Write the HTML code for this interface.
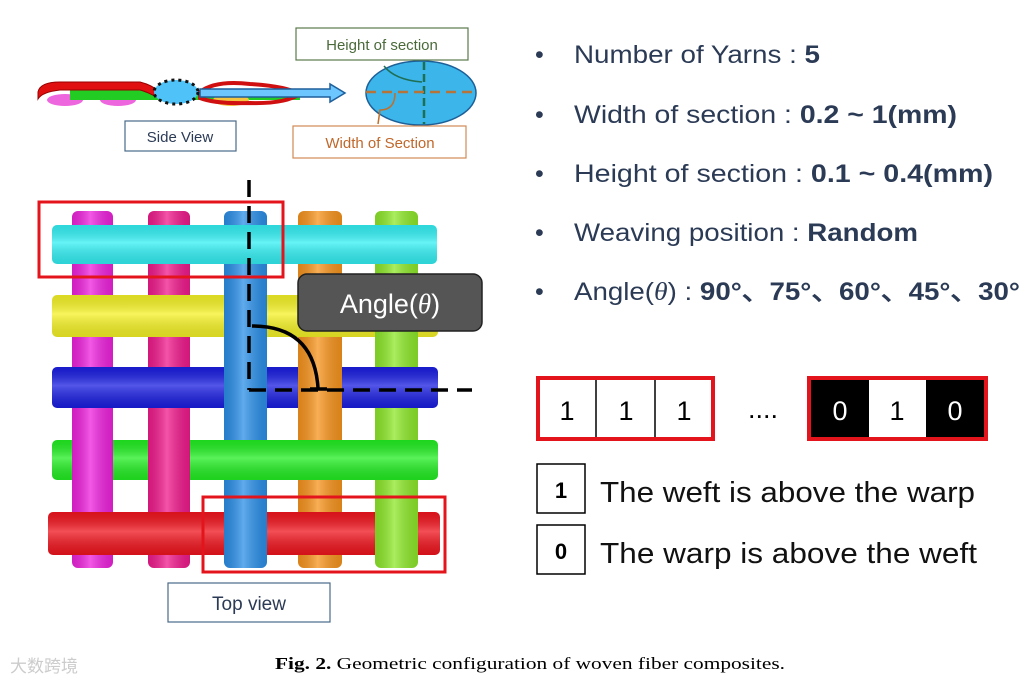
<!DOCTYPE html>
<html><head><meta charset="utf-8"><style>
html,body{margin:0;padding:0;background:#fff}
svg{display:block}
</style></head><body>
<svg width="1036" height="686" viewBox="0 0 1036 686" xmlns="http://www.w3.org/2000/svg" font-family="Liberation Sans, DejaVu Sans, sans-serif">
<defs>
<linearGradient id="v" x1="0" x2="1" y1="0" y2="0"><stop offset="0" stop-color="#000" stop-opacity=".12"/><stop offset=".45" stop-color="#fff" stop-opacity=".25"/><stop offset="1" stop-color="#000" stop-opacity=".12"/></linearGradient>
<linearGradient id="h" x1="0" x2="0" y1="0" y2="1"><stop offset="0" stop-color="#000" stop-opacity=".1"/><stop offset=".45" stop-color="#fff" stop-opacity=".25"/><stop offset="1" stop-color="#000" stop-opacity=".12"/></linearGradient>
</defs>
<!-- side view -->
<g>
<ellipse cx="65" cy="100" rx="18" ry="6" fill="#ee66dd"/>
<ellipse cx="118" cy="100" rx="18" ry="6" fill="#ee66dd"/>
<rect x="70" y="90" width="230" height="10" fill="#22cc22"/>
<ellipse cx="231" cy="100" rx="18" ry="6" fill="#f5c542"/>
<path d="M38 92 Q40 82 60 82 L140 82 Q152 85 160 92 L158 98 Q148 92 140 90 L60 90 Q42 92 38 99 Z" fill="#e01010" stroke="#900" stroke-width="1"/>
<path d="M200 92 Q215 80 250 84 Q285 86 300 94 Q285 104 250 103 Q215 104 200 98 Z" fill="none" stroke="#d01010" stroke-width="4"/>
<ellipse cx="176" cy="92" rx="22" ry="12" fill="#4fc3f7" stroke="#111" stroke-width="3" stroke-dasharray="3 4"/>
<path d="M200 89 L330 89 L330 84 L345 93 L330 102 L330 97 L200 97 Z" fill="#6ec6ff" stroke="#1f5f9a" stroke-width="1.5"/>
<rect x="125" y="121" width="111" height="30" fill="#fff" stroke="#4a6a8a" stroke-width="1.2"/>
<text x="180" y="142" font-size="15" text-anchor="middle" fill="#2b3a55">Side View</text>
<ellipse cx="421" cy="93" rx="55" ry="32" fill="#3bb5ea" stroke="#1d5f96" stroke-width="1.5"/>
<line x1="424" y1="62" x2="424" y2="124" stroke="#1f6f55" stroke-width="2.5" stroke-dasharray="8 4"/>
<line x1="366" y1="92" x2="476" y2="92" stroke="#b5753a" stroke-width="2.5" stroke-dasharray="10 6"/>
<path d="M422 82 Q395 80 384 66" fill="none" stroke="#1f6f55" stroke-width="1.5"/>
<path d="M395 93 Q395 110 380 110 L378 124" fill="none" stroke="#c0702a" stroke-width="1.5"/>
<rect x="296" y="28" width="172" height="32" fill="#fff" stroke="#5a7a4a" stroke-width="1.2"/>
<text x="382" y="50" font-size="15" text-anchor="middle" fill="#4a6a3a">Height of section</text>
<rect x="293" y="126" width="173" height="32" fill="#fff" stroke="#d08a55" stroke-width="1.2"/>
<text x="380" y="148" font-size="15" text-anchor="middle" fill="#c0672a">Width of Section</text>
</g>
<!-- weave -->
<g>
<rect x="72" y="211" width="41" height="357" rx="6" fill="#ee22dd"/><rect x="72" y="211" width="41" height="357" rx="6" fill="url(#v)"/>
<rect x="148" y="211" width="42" height="357" rx="6" fill="#f01a8c"/><rect x="148" y="211" width="42" height="357" rx="6" fill="url(#v)"/>
<rect x="298" y="211" width="44" height="357" rx="6" fill="#f7941d"/><rect x="298" y="211" width="44" height="357" rx="6" fill="url(#v)"/>
<rect x="375" y="211" width="43" height="357" rx="6" fill="#8ee82a"/><rect x="375" y="211" width="43" height="357" rx="6" fill="url(#v)"/>
<rect x="52" y="295" width="386" height="42" rx="5" fill="#f5f226"/><rect x="52" y="295" width="386" height="42" rx="5" fill="url(#h)"/>
<rect x="52" y="367" width="386" height="41" rx="5" fill="#1a1ee0"/><rect x="52" y="367" width="386" height="41" rx="5" fill="url(#h)"/>
<rect x="48" y="512" width="392" height="43" rx="5" fill="#f0141e"/><rect x="48" y="512" width="392" height="43" rx="5" fill="url(#h)"/>
<rect x="298" y="364" width="44" height="47" fill="#f7941d"/><rect x="298" y="364" width="44" height="47" fill="url(#v)"/>
<rect x="375" y="292" width="43" height="48" fill="#8ee82a"/><rect x="375" y="292" width="43" height="48" fill="url(#v)"/>
<rect x="375" y="509" width="43" height="49" fill="#8ee82a"/><rect x="375" y="509" width="43" height="49" fill="url(#v)"/>
<rect x="224" y="211" width="43" height="357" rx="6" fill="#2b8fe8"/><rect x="224" y="211" width="43" height="357" rx="6" fill="url(#v)"/>
<rect x="52" y="440" width="386" height="40" rx="5" fill="#22ee22"/><rect x="52" y="440" width="386" height="40" rx="5" fill="url(#h)"/>
<rect x="72" y="437" width="41" height="46" fill="#ee22dd"/><rect x="72" y="437" width="41" height="46" fill="url(#v)"/>
<rect x="148" y="437" width="42" height="46" fill="#f01a8c"/><rect x="148" y="437" width="42" height="46" fill="url(#v)"/>
<rect x="52" y="225" width="385" height="39" rx="5" fill="#33f0f4"/><rect x="52" y="225" width="385" height="39" rx="5" fill="url(#h)"/>
<rect x="39" y="202" width="244" height="75" fill="none" stroke="#e4141c" stroke-width="3"/>
<rect x="203" y="497" width="242" height="75" fill="none" stroke="#e4141c" stroke-width="3"/>
<line x1="249" y1="180" x2="249" y2="390" stroke="#000" stroke-width="3.5" stroke-dasharray="17 9"/>
<line x1="249" y1="390" x2="472" y2="390" stroke="#000" stroke-width="3.5" stroke-dasharray="17 9"/>
<path d="M252 326 Q314 326 318 388" fill="none" stroke="#000" stroke-width="3.5"/>
<line x1="310" y1="389" x2="327" y2="389" stroke="#000" stroke-width="3.5"/>
<rect x="298" y="274" width="184" height="57" rx="9" fill="#555" stroke="#222" stroke-width="1.5"/>
<text x="390" y="313" font-size="27" text-anchor="middle" fill="#fff">Angle(<tspan style="font-family:'Liberation Serif',serif;font-style:italic">θ</tspan>)</text>
<rect x="168" y="583" width="162" height="39" fill="#fff" stroke="#4a6a8a" stroke-width="1.2"/>
<text x="249" y="610" font-size="19" text-anchor="middle" fill="#2b3a55">Top view</text>
</g>
<!-- bullets -->
<g font-size="25" fill="#2b3a55">
<text x="535" y="63">•</text><text x="574" y="63" textLength="246" lengthAdjust="spacingAndGlyphs">Number of Yarns : <tspan font-weight="bold">5</tspan></text>
<text x="535" y="123">•</text><text x="574" y="123" textLength="383" lengthAdjust="spacingAndGlyphs">Width of section : <tspan font-weight="bold">0.2 ~ 1(mm)</tspan></text>
<text x="535" y="182">•</text><text x="574" y="182" textLength="419" lengthAdjust="spacingAndGlyphs">Height of section :  <tspan font-weight="bold">0.1 ~ 0.4(mm)</tspan></text>
<text x="535" y="241">•</text><text x="574" y="241" textLength="344" lengthAdjust="spacingAndGlyphs">Weaving position : <tspan font-weight="bold">Random</tspan></text>
<text x="535" y="300">•</text><text x="574" y="300" textLength="446" lengthAdjust="spacingAndGlyphs">Angle(<tspan style="font-family:'Liberation Serif',serif;font-style:italic">θ</tspan>) : <tspan font-weight="bold">90°、75°、60°、45°、30°</tspan></text>
</g>
<!-- binary -->
<g font-size="27" text-anchor="middle">
<rect x="538" y="378" width="175" height="61" fill="#fff" stroke="#e4141c" stroke-width="4"/>
<line x1="596" y1="380" x2="596" y2="437" stroke="#000" stroke-width="1.5"/>
<line x1="655" y1="380" x2="655" y2="437" stroke="#000" stroke-width="1.5"/>
<text x="567" y="420">1</text><text x="626" y="420">1</text><text x="684" y="420">1</text>
<text x="763" y="418">....</text>
<rect x="809" y="378" width="177" height="61" fill="#000" stroke="#e4141c" stroke-width="4"/>
<rect x="869" y="380" width="57" height="57" fill="#fff"/>
<text x="840" y="420" fill="#fff">0</text><text x="897" y="420">1</text><text x="955" y="420" fill="#fff">0</text>
<rect x="537" y="464" width="48" height="49" fill="#fff" stroke="#000" stroke-width="1.5"/>
<text x="561" y="498" font-weight="bold" font-size="22">1</text>
<rect x="537" y="525" width="48" height="49" fill="#fff" stroke="#000" stroke-width="1.5"/>
<text x="561" y="559" font-weight="bold" font-size="22">0</text>
</g>
<text x="600" y="502" font-size="29" fill="#111" textLength="375" lengthAdjust="spacingAndGlyphs">The weft is above the warp</text>
<text x="600" y="563" font-size="29" fill="#111" textLength="377" lengthAdjust="spacingAndGlyphs">The warp is above the weft</text>
<!-- caption -->
<text x="10" y="672" font-size="17" fill="#ccc">大数跨境</text>
<text x="275" y="669" font-size="17" fill="#000" style="font-family:'Liberation Serif',serif" textLength="510" lengthAdjust="spacingAndGlyphs"><tspan font-weight="bold">Fig. 2.</tspan>  Geometric configuration of woven fiber composites.</text>
</svg>
</body></html>
